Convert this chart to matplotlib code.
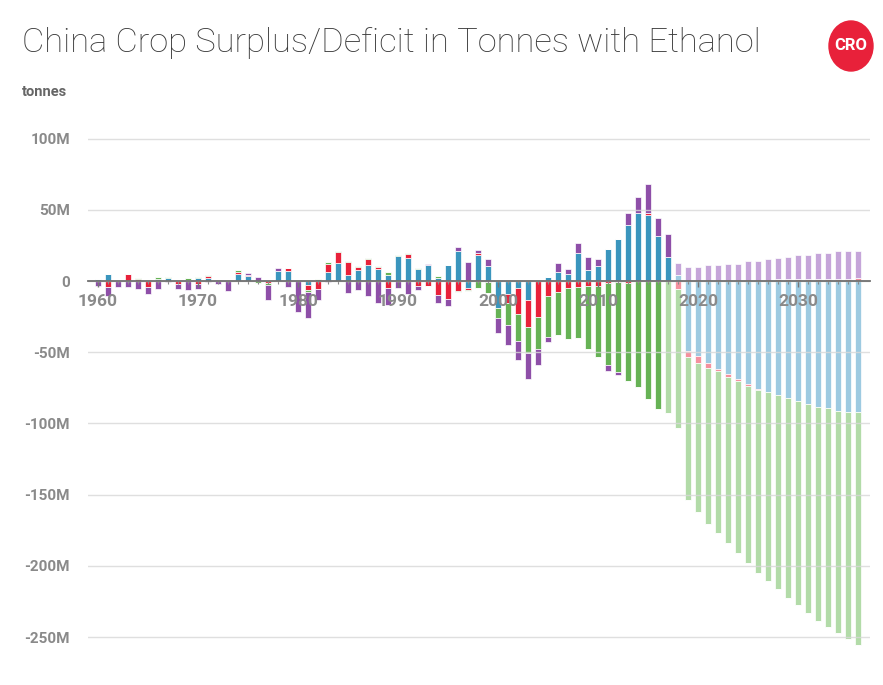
import matplotlib
matplotlib.use('Agg')
import matplotlib.pyplot as plt
from matplotlib.patches import Ellipse
import numpy as np

years = list(range(1960, 2037))

# values in million tonnes, one per year 1960..2036
blue = [1.5, 5, 0, 0, 0, 0, 1.5, 1.8, 0, 1,
        1.8, 1.8, 0, 0.5, 4.7, 3.5, 0, 0, 7.3, 7.3,
        0.5, -2.8, 0, 6.1, 12.6, 4.2, 7.5, 11.3, 8.3, 4.3,
        17.3, 15.9, 8.4, 11, 2.3, 11, 20.8, -5.1, 18.3, 10.5,
        -19.2, -9.1, -5.1, -13.3, 0, 2.6, 6.5, 4.7, 19.4, 7.7,
        10.5, 22.5, 29.5, 39.3, 47.5, 46.3, 31.6, 17, 4,
        -49.1, -52.7, -57.3, -61.5, -65.5, -68.6, -72.5, -75.6, -77.7,
        -80.3, -82.4, -84.2, -86.6, -88.5, -89.4, -91.3, -92, -92]
red = [0, -4.5, 0, 5, 1.5, -4, 0, 0, -2, 0,
       -2, 1.4, 0, 0, 1.8, 0.7, 0, -1.4, 0, 2.1,
       0, -3.5, -5.6, 5.9, 7.5, 9.4, 2, 4.5, 1.4, -5.2,
       0, 3.3, -3.5, -3.5, -9.8, -12.9, -7.2, -0.9, 1.4, -0.9,
       0, -6, -18, -18.7, -25, -10.3, -7.5, -5.1, -4, -3.5,
       -3.5, -1.2, -0.7, -1.5, 0, 1.2, 0, 0, -5.9,
       -4.2, -4.7, -4, -1.6, -1.9, -1.6, -1.2, -0.9, 0,
       1.3, 1.3, 1.5, 1.5, 1.5, 1.5, 1.5, 1.5, 1.8]
green = [0, 0, 0, 0, 0.5, 0.8, 1.2, 1.3, 1, 1,
         1.2, 0.7, 1, 0, 1, 0, -1.5, -1.2, 0, 0,
         0, -1.2, 1.4, 1.2, 1.2, 0.7, 1.2, 0.6, 0.7, 1.8,
         0.9, 0.7, 0.9, 0, 0.9, 0, -0.7, -1.2, -5.1, -7.7,
         -7, -16, -18.7, -18.7, -23, -28.8, -30.4, -35.8, -35.8, -44,
         -50, -57.8, -63, -69, -74.7, -82.6, -89.7, -92.5, -97.6,
         -100.5, -104.6, -109.6, -113.7, -116.4, -120.6, -124.1, -128.3, -133,
         -136.2, -140.4, -143.3, -146.8, -150, -153.4, -156.2, -159.7, -163.6]
purple = [-3.5, -6, -4, -4.5, -5.5, -5, -5.5, -1, -3.7, -6.5,
          -3.7, -0.5, -2, -7, 0, 1.6, 3, -10.8, 2.1, -4.5,
          -21.5, -18.7, -7.7, -0.7, 0, -8.4, -6.4, -10.4, -15.6, -11.7,
          -4.7, -8.9, -3, 1.2, -5.9, -4.7, 2.9, 13.6, 1.8, 4.9,
          -10.5, -14, -14, -18, -11, -4, 5.9, 3.7, 7.5, 8.9,
          4.9, -4, -2, 8.2, 11.7, 20.6, 12.4, 16, 9,
          10, 10, 11, 11, 12.2, 12.2, 14, 14, 15.2,
          14.6, 15.8, 16.5, 16.5, 17.9, 18.4, 19.5, 19.5, 19.2]

series = [
    (blue, '#3a95bd', '#9dcae1', 2018),
    (red, '#e8213a', '#f4919e', 2018),
    (green, '#66b255', '#b2dba8', 2017),
    (purple, '#8e4fa8', '#c5a5d9', 2018),
]

plt.rcParams['font.family'] = ['Roboto', 'DejaVu Sans']

fig = plt.figure(figsize=(8.83, 6.85), dpi=100)
ax = fig.add_axes([88 / 883, 1 - 658.4 / 685, 782 / 883, 526.9 / 685])

x = np.array(years)
pos = np.zeros(len(years))
neg = np.zeros(len(years))
for vals, dark, light, fc_start in series:
    v = np.array(vals, dtype=float)
    cols = [light if yr >= fc_start else dark for yr in years]
    up = np.where(v > 0, v, 0)
    down = np.where(v < 0, v, 0)
    ax.bar(x, up, bottom=pos, width=0.66, color=cols, edgecolor='white',
           linewidth=0.5, zorder=1)
    ax.bar(x, down, bottom=neg, width=0.66, color=cols, edgecolor='white',
           linewidth=0.5, zorder=1)
    pos += up
    neg += down

ax.set_xlim(1959.0, 2037.2)
ax.set_ylim(-265, 105)
ax.set_axisbelow(False)

yt = [100, 50, 0, -50, -100, -150, -200, -250]
ax.set_yticks(yt)
ax.set_yticklabels(['100M', '50M', '0', '-50M', '-100M', '-150M', '-200M', '-250M'])
ax.tick_params(axis='y', length=0, pad=13, labelsize=11, labelcolor='#8a8a8a')
for lab in ax.get_yticklabels():
    lab.set_fontweight('bold')
ax.yaxis.grid(True, color='#d8d8d8', linewidth=1, alpha=0.8, zorder=2)

for s in ['top', 'right', 'left']:
    ax.spines[s].set_visible(False)
ax.spines['bottom'].set_position(('data', 0))
ax.spines['bottom'].set_color('#707070')
ax.spines['bottom'].set_linewidth(1.3)
ax.spines['bottom'].set_zorder(3)

ax.set_xticks(range(1960, 2031, 10))
ax.set_xticks(years, minor=True)
ax.tick_params(axis='x', which='major', length=4, width=1, color='#777777',
               pad=5, labelsize=12.5, labelcolor='#8a8a8a')
ax.tick_params(axis='x', which='minor', length=2.5, width=0.8, color='#888888')
for lab in ax.get_xticklabels():
    lab.set_fontweight('bold')
    lab.set_zorder(4)

fig.text(22 / 883, 1 - 27 / 685, 'China Crop Surplus/Deficit in Tonnes with Ethanol',
         fontsize=24.8, fontweight='light', color='#3a3a3a', va='top', ha='left')
fig.text(22 / 883, 1 - 92 / 685, 'tonnes', fontsize=10.5, fontweight='bold',
         color='#666666', va='center', ha='left')

logo = Ellipse((851 / 883, 1 - 46 / 685), 44 / 883, 50 / 685,
               transform=fig.transFigure, color='#e8213a')
fig.patches.append(logo)
fig.text(851 / 883, 1 - 46 / 685, 'CRO', fontsize=12, fontweight='bold',
         color='white', ha='center', va='center')

plt.savefig('out.png', dpi=100)
